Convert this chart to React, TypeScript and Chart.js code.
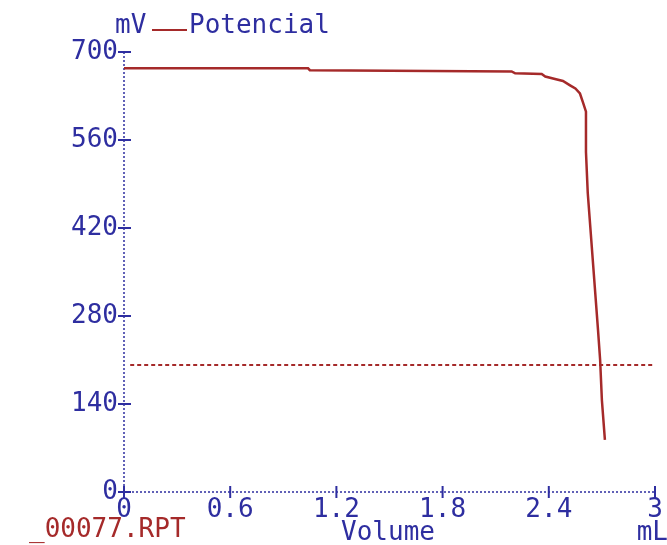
import { useEffect, useRef } from 'react';
import { Chart, registerables } from 'chart.js';

Chart.register(...registerables);

const volumeML = [0, 1.04, 1.05, 2.19, 2.21, 2.36, 2.38, 2.435, 2.48, 2.52, 2.55, 2.576, 2.593, 2.61, 2.61, 2.62, 2.678, 2.69, 2.7, 2.717];
const potentialMV = [674, 674, 671, 669, 666, 665, 661, 657, 654, 647, 642, 634, 620, 605, 541, 476, 258, 210, 146, 83];
const endpointMV = 202;
const xTickValues = [0, 0.6, 1.2, 1.8, 2.4, 3];
const yTickValues = [0, 140, 280, 420, 560, 700];
const seriesName = 'Potencial';
const yUnit = 'mV';
const xUnit = 'mL';
const xTitle = 'Volume';
const fileName = '_00077.RPT';

const BLUE = '#2e2ea0';
const RED = '#a52a2a';
const FONT = '"DejaVu Sans Mono", monospace';
const FSIZE = 26;

const axesPlugin = {
  id: 'customAxes',
  beforeDatasetsDraw(chart: any) {
    const { ctx, chartArea } = chart;
    const xs = chart.scales.x;
    const ys = chart.scales.y;
    const x0 = xs.getPixelForValue(0);
    const y0 = ys.getPixelForValue(0);
    ctx.save();
    ctx.strokeStyle = BLUE;
    ctx.lineWidth = 1.5;
    ctx.setLineDash([2, 2]);
    ctx.beginPath();
    ctx.moveTo(x0, chartArea.top);
    ctx.lineTo(x0, y0);
    ctx.moveTo(x0, y0);
    ctx.lineTo(xs.getPixelForValue(3), y0);
    ctx.stroke();
    ctx.setLineDash([]);
    ctx.lineWidth = 2;
    ctx.beginPath();
    for (const v of yTickValues) {
      const py = ys.getPixelForValue(v);
      ctx.moveTo(x0 - 6, py);
      ctx.lineTo(x0 + 7, py);
    }
    for (const v of xTickValues) {
      const px = xs.getPixelForValue(v);
      ctx.moveTo(px, y0 - 6);
      ctx.lineTo(px, y0 + 6);
    }
    ctx.stroke();
    ctx.restore();
  },
  afterDraw(chart: any) {
    const { ctx } = chart;
    ctx.save();
    ctx.font = `${FSIZE}px ${FONT}`;
    ctx.textBaseline = 'middle';
    ctx.fillStyle = BLUE;
    ctx.textAlign = 'left';
    ctx.fillText(yUnit, 115, 26);
    ctx.strokeStyle = RED;
    ctx.lineWidth = 2;
    ctx.beginPath();
    ctx.moveTo(152, 30);
    ctx.lineTo(187, 30);
    ctx.stroke();
    ctx.fillText(seriesName, 189, 26);
    ctx.textAlign = 'center';
    ctx.fillText(xTitle, 388, 533);
    ctx.textAlign = 'right';
    ctx.fillText(xUnit, 668, 533);
    ctx.textAlign = 'left';
    ctx.fillStyle = RED;
    ctx.fillText(fileName, 29, 530);
    ctx.restore();
  },
};

export default function App() {
  const ref = useRef<HTMLCanvasElement>(null);
  useEffect(() => {
    const canvas = ref.current!;
    const chart = new Chart(canvas, {
      type: 'line',
      data: {
        datasets: [
          {
            label: seriesName,
            data: volumeML.map((v, i) => ({ x: v, y: potentialMV[i] })),
            borderColor: RED,
            borderWidth: 2.5,
            pointRadius: 0,
            tension: 0,
            fill: false,
          },
          {
            label: 'endpoint',
            data: [
              { x: 0.035, y: endpointMV },
              { x: 3, y: endpointMV },
            ],
            borderColor: RED,
            borderWidth: 2,
            borderDash: [4, 3],
            pointRadius: 0,
            fill: false,
          },
        ],
      },
      options: {
        animation: false,
        responsive: false,
        devicePixelRatio: 1,
        layout: { padding: { top: 52, right: 12, left: 0, bottom: 0 } },
        plugins: { legend: { display: false }, tooltip: { enabled: false } },
        scales: {
          x: {
            type: 'linear',
            min: 0,
            max: 3,
            grid: { display: true, drawOnChartArea: false, drawTicks: false, tickLength: 0 },
            border: { display: false },
            ticks: {
              color: BLUE,
              font: { family: FONT, size: FSIZE },
              padding: 3,
              autoSkip: false,
              maxRotation: 0,
              callback: (v: any) => String(v),
            },
            afterBuildTicks: (s: any) => {
              s.ticks = xTickValues.map((v) => ({ value: v }));
            },
            afterFit: (s: any) => {
              s.height = 53;
              s.paddingLeft = 0;
              s.paddingRight = 0;
            },
          },
          y: {
            type: 'linear',
            min: 0,
            max: 700,
            grid: { display: true, drawOnChartArea: false, drawTicks: false, tickLength: 0 },
            border: { display: false },
            ticks: {
              color: BLUE,
              font: { family: FONT, size: FSIZE },
              padding: 6,
              callback: (v: any) => String(v),
            },
            afterBuildTicks: (s: any) => {
              s.ticks = yTickValues.map((v) => ({ value: v }));
            },
            afterFit: (s: any) => {
              s.width = 124;
              s.paddingTop = 0;
              s.paddingBottom = 0;
            },
          },
        },
      },
      plugins: [axesPlugin],
    });
    return () => chart.destroy();
  }, []);
  return (
    <div style={{ position: 'absolute', left: 0, top: 0, width: 667, height: 545, background: '#fff' }}>
      <canvas ref={ref} width={667} height={545} />
    </div>
  );
}
